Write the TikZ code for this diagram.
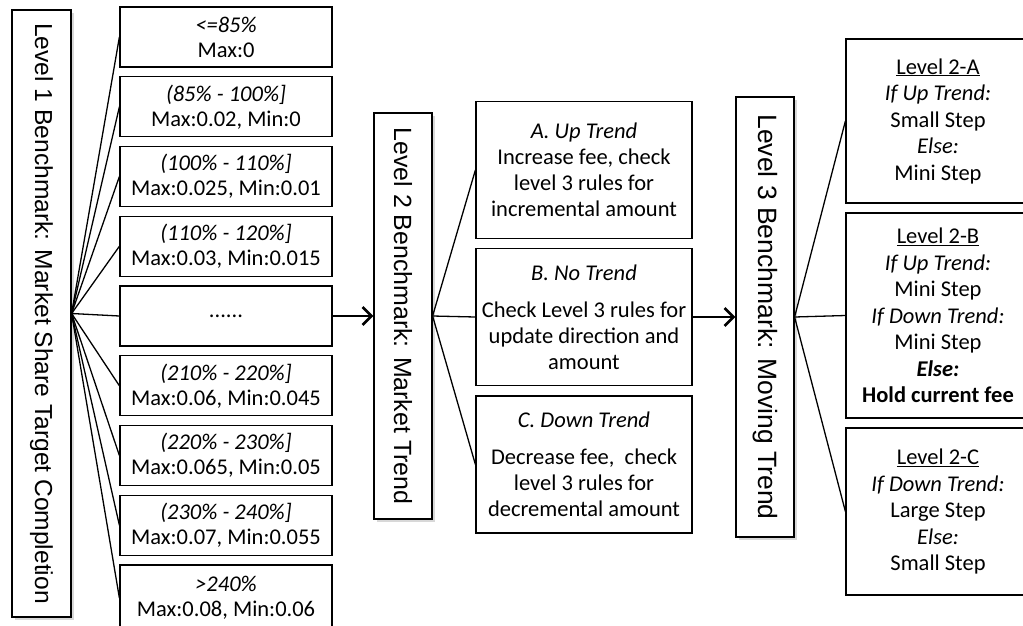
\documentclass[tikz,border=0pt]{standalone}
\usepackage{fontspec}
\setmainfont{Carlito}
\newfontfamily\arialf{Liberation Sans}
\usetikzlibrary{arrows.meta,shadows}
\begin{document}
\begin{tikzpicture}[x=1pt,y=-1pt,
  vbox/.style={draw,line width=1.2pt,fill=white,inner sep=0,
    drop shadow={shadow xshift=3pt,shadow yshift=-3pt,opacity=0.3}},
  vtext/.style={rotate=-90,inner sep=0,font=\arialf\fontsize{24.6}{28}\selectfont},
  lbox/.style={draw,line width=1.2pt,fill=white,minimum width=212pt,minimum height=60pt,
    inner sep=0,align=center,font=\fontsize{22.5}{25}\selectfont},
  mbox/.style={draw,line width=1.2pt,fill=white,minimum width=216pt,minimum height=137pt,
    inner sep=0,align=center,font=\fontsize{22.5}{26}\selectfont},
  rbox/.style={draw,line width=1.2pt,fill=white,minimum width=184pt,
    inner sep=0,align=center,font=\fontsize{22.5}{26.5}\selectfont},
  conn/.style={line width=1.3pt},
  arr/.style={line width=2.6pt,-{Straight Barb[length=9pt,width=18pt]}}
]
\clip (0,0) rectangle (1023,625);
\fill[white] (0,0) rectangle (1023,625);

% vertical benchmark boxes
\node[vbox,minimum width=59pt,minimum height=607pt] (L1) at (41.5,313.5) {};
\node[vtext] (L1t) at (L1.center) {Level 1 Benchmark: Market Share Target Completion};
\node[vbox,minimum width=58pt,minimum height=406pt] (L2) at (403,316) {};
\node[vtext,font=\arialf\fontsize{24.9}{28}\selectfont] (L2t) at (L2.center) {Level 2 Benchmark: Market Trend};
\node[vbox,minimum width=58pt,minimum height=440pt] (L3) at (765,317) {};
\node[vtext,font=\arialf\fontsize{26.5}{28}\selectfont] (L3t) at (L3.center) {Level 3 Benchmark: Moving Trend};

% level 1 ranges
\node[lbox] (b1) at (226,37) {\textit{<=85\%}\\Max:0};
\node[lbox] (b2) at (226,106.75) {\textit{(85\% - 100\%]}\\Max:0.02, Min:0};
\node[lbox] (b3) at (226,176.5) {\textit{(100\% - 110\%]}\\Max:0.025, Min:0.01};
\node[lbox] (b4) at (226,246.25) {\textit{(110\% - 120\%]}\\Max:0.03, Min:0.015};
\node[lbox] (b5) at (226,316) {......};
\node[lbox] (b6) at (226,385.75) {\textit{(210\% - 220\%]}\\Max:0.06, Min:0.045};
\node[lbox] (b7) at (226,455.5) {\textit{(220\% - 230\%]}\\Max:0.065, Min:0.05};
\node[lbox] (b8) at (226,525.25) {\textit{(230\% - 240\%]}\\Max:0.07, Min:0.055};
\node[lbox,minimum height=66pt] (b9) at (226,598) {\textit{>240\%}\\Max:0.08, Min:0.06};

% level 2 trends
\node[mbox] (A) at (584,170) {\textit{A. Up Trend}\\Increase fee, check\\level 3 rules for\\incremental amount};
\node[mbox] (B) at (584,317) {\textit{B. No Trend}\\[11pt]Check Level 3 rules for\\update direction and\\amount};
\node[mbox] (C) at (584,464.5) {\textit{C. Down Trend}\\[11pt]Decrease fee,\ \ check\\level 3 rules for\\decremental amount};

% level 3 rules
\node[rbox,minimum height=164pt] (RA) at (938,121) {\underline{Level 2-A}\\\textit{If Up Trend:}\\Small Step\\\textit{Else:}\\Mini Step};
\node[rbox,minimum height=205pt] (RB) at (938,315.5) {\underline{Level 2-B}\\\textit{If Up Trend:}\\Mini Step\\\textit{If Down Trend:}\\Mini Step\\\textbf{\textit{Else:}}\\\textbf{Hold current fee}};
\node[rbox,minimum height=167pt] (RC) at (938,511.5) {\underline{Level 2-C}\\\textit{If Down Trend:}\\Large Step\\\textit{Else:}\\Small Step};

% connectors
\foreach \i in {1,...,9} {\draw[conn] (L1.east) -- (b\i.west);}
\draw[arr] (b5.east) -- (L2.west);
\draw[conn] (L2.east) -- (A.west);
\draw[conn] (L2.east) -- (B.west);
\draw[conn] (L2.east) -- (C.west);
\draw[arr] (B.east) -- (L3.west);
\draw[conn] (L3.east) -- (RA.west);
\draw[conn] (L3.east) -- (RB.west);
\draw[conn] (L3.east) -- (RC.west);
\end{tikzpicture}
\end{document}
